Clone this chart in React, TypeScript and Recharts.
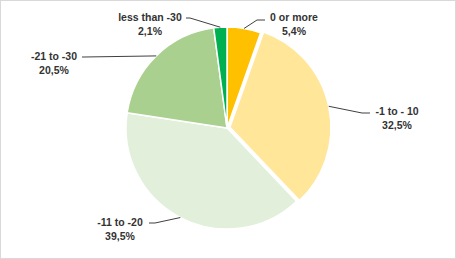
// Pie chart of score change buckets, Excel-style with outside labels and leader lines
import { PieChart, Pie, Cell } from "recharts";

const categories = ["0 or more", "-1 to - 10", "-11 to -20", "-21 to -30", "less than -30"];
const shares = [5.4, 32.5, 39.5, 20.5, 2.1];
const sliceColors = ["#FFC000", "#FFE699", "#E2EFDA", "#A9D08E", "#00B050"];

// slice index pulled out from the pie
const EXPLODED = 1;
const EXPLODE_PX = 3;

const WIDTH = 456;
const HEIGHT = 259;
const CX = 227;
const CY = 128;
const RADIUS = 101;

// label placement: elbow point of the leader line, its end next to the text, text centre
const LABEL_LAYOUT = [
  { elbow: [257, 20], tail: [265, 20], tx: 294, ty: 17 },
  { elbow: [362, 113], tail: [370, 113], tx: 397, ty: 111 },
  { elbow: [155, 223], tail: [149, 223], tx: 120, ty: 222 },
  { elbow: [84, 57], tail: [82, 57], tx: 54, ty: 56 },
  { elbow: [190, 18], tail: [186, 18], tx: 150, ty: 17 },
];

const data = categories.map((name, i) => ({ name, value: shares[i] }));

const RAD = Math.PI / 180;
const FONT = "'Liberation Sans', Arial, sans-serif";

function formatPct(v: number) {
  return v.toFixed(1).replace(".", ",") + "%";
}

function explodeOffset(midAngle: number) {
  return [EXPLODE_PX * Math.cos(-midAngle * RAD), EXPLODE_PX * Math.sin(-midAngle * RAD)];
}

function renderLabel(props: any) {
  const { cx, cy, midAngle, outerRadius, index } = props;
  const layout = LABEL_LAYOUT[index];
  let ex = cx + outerRadius * Math.cos(-midAngle * RAD);
  let ey = cy + outerRadius * Math.sin(-midAngle * RAD);
  if (index === EXPLODED) {
    const [dx, dy] = explodeOffset(midAngle);
    ex += dx;
    ey += dy;
  }
  const pts = `${ex},${ey} ${layout.elbow[0]},${layout.elbow[1]} ${layout.tail[0]},${layout.tail[1]}`;
  return (
    <g key={`lbl-${index}`}>
      <polyline points={pts} fill="none" stroke="#404040" strokeWidth={1} />
      <text
        x={layout.tx}
        y={layout.ty}
        textAnchor="middle"
        dominantBaseline="central"
        fontFamily={FONT}
        fontSize={10.5}
        fontWeight="bold"
        fill="#333"
      >
        {categories[index]}
      </text>
      <text
        x={layout.tx}
        y={layout.ty + 14}
        textAnchor="middle"
        dominantBaseline="central"
        fontFamily={FONT}
        fontSize={10.5}
        fontWeight="bold"
        fill="#333"
      >
        {formatPct(shares[index])}
      </text>
    </g>
  );
}

// mid angle of the exploded slice, used to shift the second pie layer
const explodedMid = (() => {
  const total = shares.reduce((a, b) => a + b, 0);
  const before = shares.slice(0, EXPLODED).reduce((a, b) => a + b, 0);
  const mid = before + shares[EXPLODED] / 2;
  return 90 - (mid / total) * 360;
})();
const [offX, offY] = explodeOffset(explodedMid);

export default function App() {
  return (
    <div
      style={{
        position: "absolute",
        left: 0,
        top: 0,
        width: WIDTH,
        height: HEIGHT,
        background: "#fff",
      }}
    >
      <PieChart width={WIDTH} height={HEIGHT} margin={{ top: 0, right: 0, bottom: 0, left: 0 }}>
        <Pie
          data={data}
          dataKey="value"
          nameKey="name"
          cx={CX}
          cy={CY}
          outerRadius={RADIUS}
          startAngle={90}
          endAngle={-270}
          stroke="#fff"
          strokeWidth={1.5}
          label={renderLabel}
          labelLine={false}
          isAnimationActive={false}
        >
          {data.map((_d, i) => (
            <Cell
              key={`c-${i}`}
              fill={i === EXPLODED ? "none" : sliceColors[i]}
              stroke={i === EXPLODED ? "none" : "#fff"}
            />
          ))}
        </Pie>
        <Pie
          data={data}
          dataKey="value"
          nameKey="name"
          cx={CX + offX}
          cy={CY + offY}
          outerRadius={RADIUS}
          startAngle={90}
          endAngle={-270}
          stroke="#fff"
          strokeWidth={1.5}
          label={false}
          labelLine={false}
          isAnimationActive={false}
        >
          {data.map((_d, i) => (
            <Cell
              key={`e-${i}`}
              fill={i === EXPLODED ? sliceColors[i] : "none"}
              stroke={i === EXPLODED ? "#fff" : "none"}
            />
          ))}
        </Pie>
      </PieChart>
      <div
        style={{
          position: "absolute",
          left: 0,
          top: 0,
          width: WIDTH,
          height: HEIGHT,
          boxSizing: "border-box",
          border: "1px solid #d9d9d9",
          pointerEvents: "none",
        }}
      />
    </div>
  );
}
